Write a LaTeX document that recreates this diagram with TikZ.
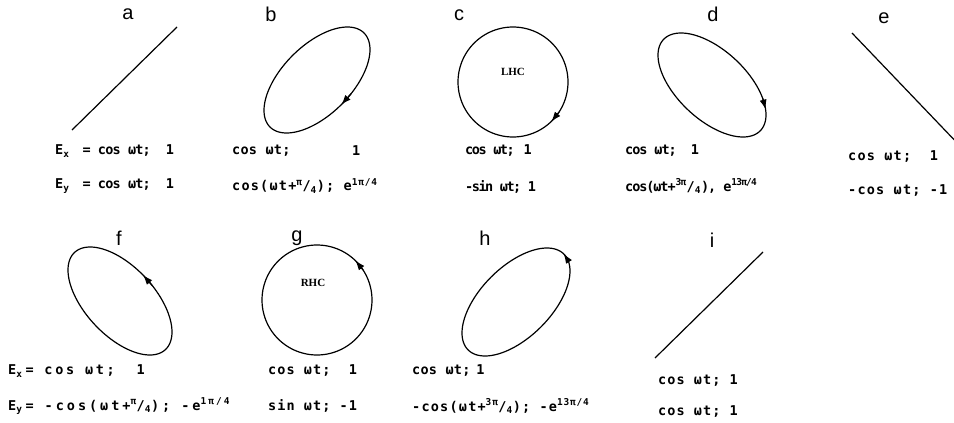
\documentclass[tikz,border=0pt]{standalone}
\usepackage{fontspec}
\setmainfont{Liberation Serif}
\newfontfamily\monof{DejaVu Sans Mono}
\newfontfamily\labf{Liberation Sans}
\usetikzlibrary{arrows.meta}
\newcommand\pell[6]{% cx cy ax ay phase arrow-t
  \draw[curve] plot[domain=0:360,samples=120,smooth] ({#1+#3*cos(\x)},{#2-#4*cos(\x+#5)}) -- cycle;
  \draw[arr] ({#1+#3*cos(#6-12)},{#2-#4*cos(#6-12+#5)}) -- ({#1+#3*cos(#6)},{#2-#4*cos(#6+#5)});
}
\begin{document}
\begin{tikzpicture}[x=1pt,y=-1pt,
  tag/.style={font=\labf\fontsize{20}{20}\selectfont, inner sep=0pt},
  eq/.style={font=\monof\bfseries\fontsize{13.5}{13.5}\selectfont\addfontfeatures{LetterSpace=#1}, anchor=west, inner sep=0pt},
  eq/.default=0,
  hand/.style={font=\bfseries\fontsize{11}{11}\selectfont, inner sep=0pt},
  curve/.style={line width=1.2pt},
  arr/.style={-{Latex[length=10pt,width=7pt]}, line width=1.2pt, shorten >=-1pt}]
\useasboundingbox (0,0) rectangle (954,423);
\clip (0,0) rectangle (954,423);
\fill[white] (0,0) rectangle (954,423);
% ---- row 1 ----
\node[tag] (la) at (128,14) {a};
\coordinate (a1) at (72,130); \coordinate (a2) at (177,27);
\draw[curve] (a1) -- (a2);
\node[eq=-6] (ax) at (55,151) {E\textsubscript{x}\hspace{13pt}= cos ωt;\hspace{15pt}1};
\node[eq=-6] (ay) at (55,186) {E\textsubscript{y}\hspace{13pt}= cos ωt;\hspace{15pt}1};

\node[tag] (lb) at (271,14) {b};
\pell{317}{80}{53}{53}{55}{62}
\node[eq=2] (bx) at (232,151) {cos ωt;};
\node[eq] (bx1) at (352,151) {1};
\node[eq=9] (by) at (232,186) {cos(ωt+\textsuperscript{π}/\textsubscript{4}); e\textsuperscript{1π/4}};

\node[tag] (lc) at (459,15) {c};
\pell{513}{82}{55}{55}{90}{45}
\node[hand] (lhc) at (513,72) {LHC};
\node[eq=-11] (cx) at (465,151) {cos ωt;\hspace{9pt}1};
\node[eq=-11] (cy) at (465,187) {-sin ωt; 1};

\node[tag] (ld) at (713,14) {d};
\pell{712}{85}{54}{52}{125}{-8}
\node[eq=-8] (dx) at (625,151) {cos ωt;\ \ 1};
\node[eq=-8] (dy) at (625,186) {cos(ωt+\textsuperscript{3π}/\textsubscript{4}), e\textsuperscript{13π/4}};

\node[tag] (le) at (884,18) {e};
\coordinate (e1) at (852,33); \coordinate (e2) at (962,148);
\draw[curve] (e1) -- (e2);
\node[eq=9] (ex) at (848,157) {cos ωt;\ \ 1};
\node[eq=9] (ey) at (848,191) {-cos ωt; -1};
% ---- row 2 ----
\node[tag] (lf) at (119,238) {f};
\pell{120}{301}{52}{54}{235}{63}
\node[eq=20] (fx) at (8,371) {E\textsubscript{x}\hspace{3pt}= cos ωt;\ \ 1};
\node[eq=22] (fy) at (8,406) {E\textsubscript{y}\hspace{3pt}= -cos(ωt+\textsuperscript{π}/\textsubscript{4}); -e\textsuperscript{1π/4}};

\node[tag] (lg) at (297,238) {g};
\pell{317}{300}{55}{55}{-90}{45}
\node[hand] (rhc) at (313,283) {RHC};
\node[eq=8] (gx) at (268,371) {cos ωt;\ \ 1};
\node[eq=8] (gy) at (268,406) {sin ωt; -1};

\node[tag] (lh) at (485,238) {h};
\pell{516}{302}{54}{54}{-55}{27}
\node[eq=2] (hx) at (412,371) {cos ωt;\hspace{6pt}1};
\node[eq=9] (hy) at (412,406) {-cos(ωt+\textsuperscript{3π}/\textsubscript{4}); -e\textsuperscript{13π/4}};

\node[tag] (li) at (712,240) {i};
\coordinate (i1) at (655,358); \coordinate (i2) at (763,252);
\draw[curve] (i1) -- (i2);
\node[eq=8] (ix) at (658,381) {cos ωt; 1};
\node[eq=8] (iy) at (658,412) {cos ωt; 1};
\end{tikzpicture}
\end{document}
